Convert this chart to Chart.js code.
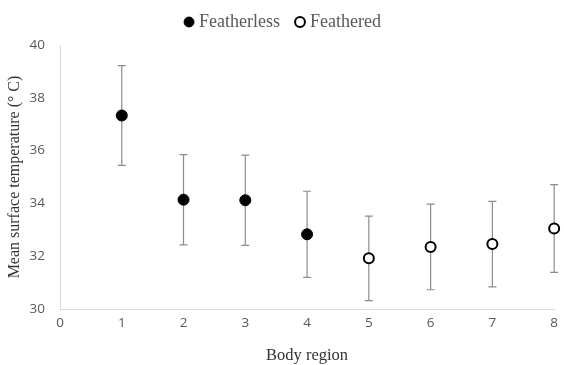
<!DOCTYPE html>
<html>
<head>
<meta charset="utf-8">
<script src="https://cdn.jsdelivr.net/npm/chart.js@4"></script>
<style>
  html, body { margin: 0; padding: 0; background: #fff; }
  #wrap { width: 564px; height: 365px; }
</style>
</head>
<body>
<div id="wrap"><canvas id="chart"></canvas></div>
<script>
// body regions and mean temperatures (deg C) with error bar half-widths
const featherlessX = [1, 2, 3, 4];
const featherlessY = [37.33, 34.14, 34.12, 32.83];
const featherlessErr = [1.89, 1.71, 1.71, 1.63];

const featheredX = [5, 6, 7, 8];
const featheredY = [31.92, 32.35, 32.46, 33.05];
const featheredErr = [1.60, 1.62, 1.62, 1.66];

const xTicks = [0, 1, 2, 3, 4, 5, 6, 7, 8];
const yTicks = [30, 32, 34, 36, 38, 40];

const toPoints = (xs, ys, errs) =>
	xs.map((x, i) => ({ x: x, y: ys[i], err: errs[i] }));

// draws vertical error bars under the markers
const errorBars = {
	id: "errorBars",
	beforeDatasetsDraw(chart) {
		const ctx = chart.ctx;
		const xs = chart.scales.x;
		const ys = chart.scales.y;
		ctx.save();
		ctx.strokeStyle = "#8c8c8c";
		ctx.lineWidth = 1.2;
		chart.data.datasets.forEach(ds => {
			ds.data.forEach(p => {
				const px = xs.getPixelForValue(p.x);
				const top = ys.getPixelForValue(p.y + p.err);
				const bot = ys.getPixelForValue(p.y - p.err);
				ctx.beginPath();
				ctx.moveTo(px, top);
				ctx.lineTo(px, bot);
				ctx.moveTo(px - 4, top);
				ctx.lineTo(px + 4, top);
				ctx.moveTo(px - 4, bot);
				ctx.lineTo(px + 4, bot);
				ctx.stroke();
			});
		});
		ctx.restore();
	}
};

// fixed legend band height, legend row pulled up a little and re-centred
const legendTweak = {
	id: "legendTweak",
	beforeInit(chart) {
		const fit = chart.legend.fit;
		chart.legend.fit = function () {
			fit.bind(chart.legend)();
			this.height = 45;
		};
	},
	afterLayout(chart) {
		chart.legend.top -= 6;
		chart.legend.left += 6;
		chart.legend.right += 6;
	}
};

const tickFont = { family: "'Open Sans', sans-serif", size: 13.5 };

new Chart(document.getElementById("chart"), {
	type: "scatter",
	data: {
		datasets: [
			{
				label: "Featherless",
				data: toPoints(featherlessX, featherlessY, featherlessErr),
				pointRadius: 5.5,
				pointBackgroundColor: "#000",
				pointBorderColor: "#000",
				pointBorderWidth: 1,
				clip: false
			},
			{
				label: "Feathered",
				data: toPoints(featheredX, featheredY, featheredErr),
				pointRadius: 5,
				pointBackgroundColor: "#fff",
				pointBorderColor: "#000",
				pointBorderWidth: 2,
				clip: false
			}
		]
	},
	options: {
		responsive: true,
		maintainAspectRatio: false,
		animation: false,
		layout: { padding: { left: 0, right: 7, top: 0, bottom: 0 } },
		plugins: {
			tooltip: { enabled: false },
			legend: {
				position: "top",
				labels: {
					usePointStyle: true,
					pointStyle: "circle",
					boxWidth: 2,
					boxHeight: 7,
					padding: 19,
					color: "#595959",
					font: { family: "'Liberation Serif', serif", size: 18 }
				}
			}
		},
		scales: {
			x: {
				type: "linear",
				min: 0,
				max: 8,
				afterBuildTicks: axis => { axis.ticks = xTicks.map(v => ({ value: v })); },
				afterFit: axis => { axis.height = 56; },
				grid: { display: false, drawTicks: false },
				border: { color: "#d9d9d9", width: 1 },
				ticks: { color: "#595959", font: tickFont, padding: 6 },
				title: {
					display: true, text: "Body region", color: "#333",
					font: { family: "'Liberation Serif', serif", size: 16.5 },
					padding: { top: 4, bottom: -1 }
				}
			},
			y: {
				min: 30,
				max: 40,
				afterBuildTicks: axis => { axis.ticks = yTicks.map(v => ({ value: v })); },
				afterFit: axis => { axis.width = 60; },
				grid: { display: false, drawTicks: false },
				border: { color: "#d9d9d9", width: 1 },
				ticks: { color: "#595959", font: tickFont, padding: 15 },
				title: {
					display: true, text: "Mean surface temperature (° C)", color: "#333",
					font: { family: "'Liberation Serif', serif", size: 16 },
					padding: { top: 5, bottom: 2 }
				}
			}
		}
	},
	plugins: [errorBars, legendTweak]
});
</script>
</body>
</html>
